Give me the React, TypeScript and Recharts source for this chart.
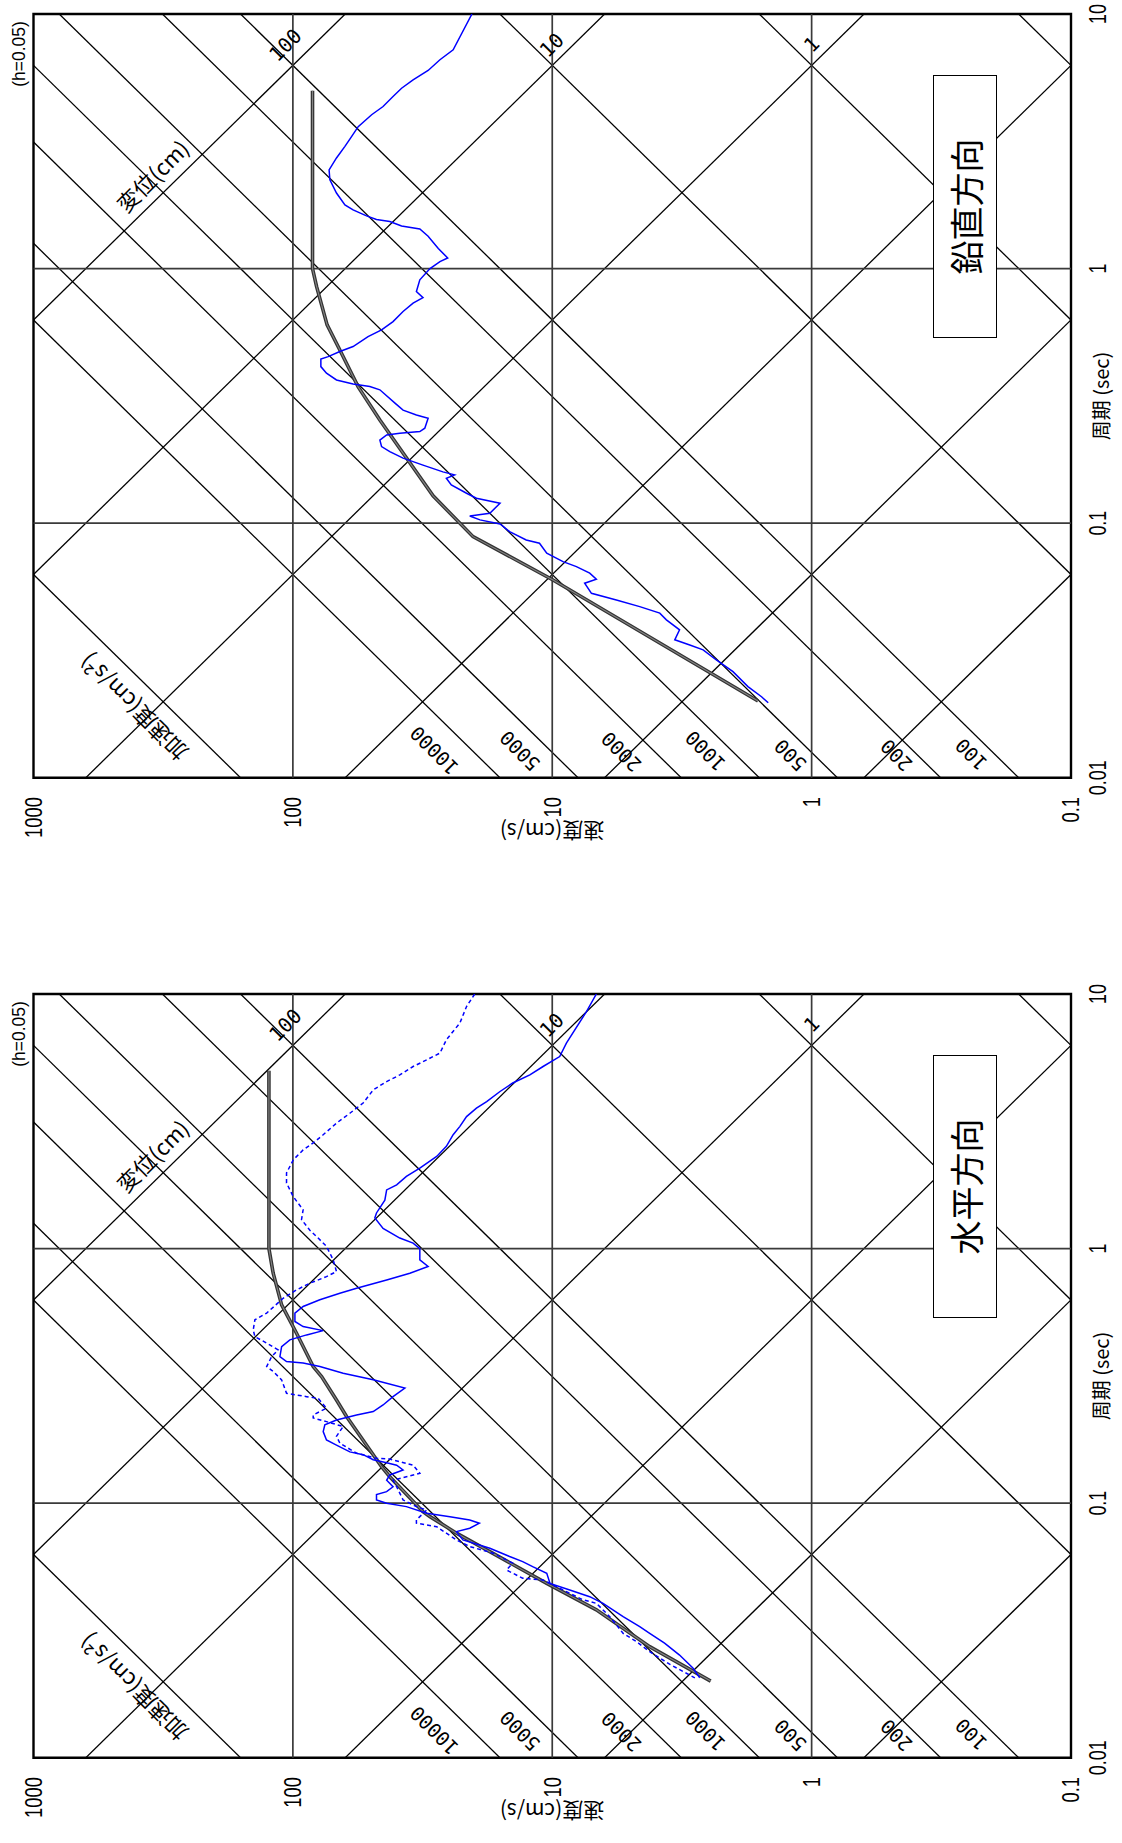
import React from 'react';
import { LineChart, Line, XAxis, YAxis, ReferenceLine, ReferenceArea, ReferenceDot } from 'recharts';

// ---- axes ----
const T_MIN = 0.01, T_MAX = 10, V_MIN = 0.1, V_MAX = 1000;
const periodTicks = [0.01, 0.1, 1, 10];
const velocityTicks = [0.1, 1, 10, 100, 1000];
const periodGrid = [0.1, 1];
const velocityGrid = [1, 10, 100];
// tripartite guide lines
const displacementLines = [0.001, 0.01, 0.1, 1, 10, 100];
const accelerationLines = [0.1, 1, 10, 100, 200, 500, 1000, 2000, 5000, 10000, 100000];
// guide labels (anchor in period / velocity)
const dispLabelText = ['100', '10', '1'];
const dispLabelT = [7.55, 7.55, 7.6];
const dispLabelV = [107, 10.05, 1.0];
const accLabelText = ['10000', '5000', '2000', '1000', '500', '200', '100'];
const accLabelT = [0.01285, 0.0128, 0.0127, 0.0128, 0.0123, 0.0123, 0.0124];
const accLabelV = [28.4, 13.3, 5.4, 2.56, 1.205, 0.47, 0.2417];
const dispTitleAt = [2.33, 350];
const accTitleAt = [0.0188, 414];

// ---- series: [period (s), velocity (cm/s)] ----
const verticalObserved = [
  [10, 20.4], [7.23, 24.1], [6.61, 27.1], [6.0, 30.1], [5.51, 34.4], [5.11, 38.1], [4.74, 41.1], [4.33, 44.9],
  [4.02, 49.7], [3.61, 56.0], [3.30, 59.4], [3.02, 63.0], [2.72, 67.9], [2.44, 72.5], [2.23, 72.0], [1.98, 67.9],
  [1.78, 63.0], [1.70, 58.6], [1.61, 52.0], [1.56, 47.6], [1.53, 42.3], [1.47, 38.1], [1.43, 32.4], [1.34, 30.1],
  [1.20, 27.5], [1.10, 25.3], [1.065, 27.1], [1.00, 29.6], [0.903, 32.4], [0.812, 33.4], [0.769, 31.5], [0.731, 34.4],
  [0.678, 37.6], [0.619, 41.1], [0.574, 45.5], [0.540, 51.3], [0.494, 58.6], [0.472, 65.9], [0.451, 73.1], [0.441, 78.0],
  [0.412, 78.0], [0.388, 74.2], [0.365, 67.9], [0.352, 58.6], [0.344, 50.5], [0.334, 46.2], [0.296, 40.4], [0.278, 37.6],
  [0.266, 33.4], [0.258, 30.1], [0.236, 31.0], [0.229, 32.4], [0.2255, 38.7], [0.222, 43.5], [0.212, 46.2], [0.1998, 45.5],
  [0.191, 42.3], [0.180, 37.6], [0.169, 31.5], [0.159, 26.4], [0.1547, 23.8], [0.150, 25.6], [0.1413, 24.5], [0.131, 21.4],
  [0.1253, 19.6], [0.1197, 15.9], [0.1094, 17.4], [0.1067, 20.8], [0.103, 19.0], [0.0993, 15.9], [0.0926, 14.6], [0.0859, 12.6],
  [0.0834, 11.2], [0.0762, 10.5], [0.0706, 9.09], [0.0675, 8.07], [0.0636, 7.17], [0.0602, 6.76], [0.0581, 7.50], [0.0530, 7.06],
  [0.0499, 5.66], [0.0470, 4.60], [0.0443, 3.85], [0.0417, 3.63], [0.0381, 3.23], [0.0348, 3.37], [0.0332, 2.95], [0.0318, 2.62],
  [0.0290, 2.33], [0.0261, 2.01], [0.0228, 1.76], [0.0208, 1.56], [0.0197, 1.47],
];
const verticalDesign = [
  [5.0, 84], [1.0, 84], [0.849, 81], [0.601, 73.8], [0.479, 65.9], [0.343, 56], [0.254, 46.2], [0.128, 28.8],
  [0.0885, 20.2], [0.0598, 9.93], [0.02, 1.61],
];
const horizontalObservedA = [
  [10.0, 6.76], [8.53, 7.38], [6.41, 8.82], [5.68, 9.36], [5.19, 10.85], [4.81, 12.2], [4.47, 14.2], [4.14, 15.9],
  [3.78, 17.9], [3.56, 19.6], [3.30, 21.4], [3.02, 22.7], [2.80, 24.1], [2.52, 25.6], [2.30, 27.9], [2.07, 32.4],
  [1.92, 36.5], [1.78, 39.8], [1.70, 43.5], [1.55, 44.2], [1.38, 47.6], [1.32, 48.3], [1.20, 44.9], [1.10, 38.7],
  [1.05, 34.4], [1.00, 32.4], [0.903, 32.4], [0.850, 30.1], [0.80, 35.4], [0.753, 43.5], [0.699, 56.8], [0.668, 65.9],
  [0.629, 78.7], [0.592, 91.3], [0.558, 98.2], [0.517, 98.2], [0.494, 91.3], [0.476, 76.4], [0.458, 88.5], [0.438, 102.7],
  [0.412, 110.5], [0.376, 112.2], [0.360, 105.8], [0.355, 91.3], [0.344, 78.7], [0.324, 64.0], [0.305, 49.0], [0.283, 37.0],
  [0.262, 41.1], [0.243, 44.9], [0.229, 49.0], [0.222, 56.8], [0.212, 67.9], [0.203, 75.3], [0.191, 76.4], [0.177, 74.2],
  [0.169, 67.9], [0.159, 60.3], [0.155, 53.6], [0.148, 49.0], [0.144, 43.5], [0.141, 39.8], [0.135, 37.6], [0.129, 42.3],
  [0.123, 43.5], [0.116, 41.1], [0.111, 43.5], [0.108, 47.6], [0.103, 47.6], [0.0999, 43.5], [0.0969, 36.5], [0.0913, 30.5],
  [0.0885, 24.8], [0.0859, 20.8], [0.0834, 19.1], [0.0797, 20.8], [0.0773, 23.4], [0.0717, 22.1], [0.0665, 17.4], [0.0617, 14.6],
  [0.0589, 13.0], [0.0563, 11.9], [0.0530, 10.5], [0.0484, 10.2], [0.0456, 8.56], [0.0429, 7.17], [0.0404, 6.37], [0.0358, 5.33],
  [0.0327, 4.60], [0.0308, 4.21], [0.0282, 3.69], [0.0253, 3.23], [0.0225, 2.87], [0.0206, 2.70],
];
const horizontalObservedB = [
  [10.0, 19.9], [8.93, 21.4], [7.69, 22.7], [6.61, 25.6], [5.86, 27.1], [5.51, 30.5], [5.19, 34.4], [4.81, 38.7],
  [4.53, 43.5], [4.20, 49.0], [3.73, 53.6], [3.40, 60.3], [3.11, 67.9], [2.80, 76.4], [2.60, 83.5], [2.44, 91.3],
  [2.23, 99.7], [1.98, 105.8], [1.81, 105.8], [1.60, 99.7], [1.42, 91.3], [1.30, 92.6], [1.18, 86.0], [1.10, 79.9],
  [1.02, 74.2], [0.903, 69.9], [0.812, 67.9], [0.776, 74.2], [0.731, 86.0], [0.688, 96.8], [0.638, 109], [0.558, 126.2],
  [0.525, 140.1], [0.479, 142.2], [0.451, 140.1], [0.425, 126.2], [0.400, 114], [0.376, 120.8], [0.344, 126.2], [0.329, 119.1],
  [0.305, 110.5], [0.270, 105.8], [0.262, 88.5], [0.258, 79.9], [0.236, 74.2], [0.222, 83.5], [0.216, 83.5], [0.209, 74.2],
  [0.200, 64.0], [0.183, 67.9], [0.172, 65.9], [0.157, 56.8], [0.150, 47.6], [0.149, 42.3], [0.141, 34.4], [0.131, 32.4],
  [0.127, 36.5], [0.123, 41.1], [0.116, 39.8], [0.103, 37.6], [0.0969, 33.4], [0.0940, 30.5], [0.0859, 33.4], [0.0834, 33.4],
  [0.0808, 27.9], [0.0762, 25.6], [0.0717, 23.4], [0.0675, 20.8], [0.0636, 16.9], [0.0581, 14.2], [0.0546, 15.0], [0.0507, 13.0],
  [0.0499, 10.85], [0.0456, 9.09], [0.0417, 7.61], [0.0404, 6.76], [0.0358, 6.00], [0.0308, 5.33], [0.0286, 4.74], [0.0261, 4.21],
  [0.0233, 3.53], [0.0206, 2.82],
];
const horizontalDesign = [
  [5.0, 123.7], [1.0, 123.7], [0.80, 119.1], [0.601, 110.5], [0.465, 96.8], [0.344, 83.5], [0.314, 77.5], [0.254, 67.9],
  [0.219, 62.1], [0.139, 45.5], [0.127, 42.3], [0.0926, 31.5], [0.0885, 29.6], [0.0762, 23.4], [0.0655, 17.9], [0.0484, 10.5],
  [0.0381, 6.76], [0.0273, 4.21], [0.020, 2.45],
];

const TWO_PI = 2 * Math.PI;
const toPts = (arr: number[][]) => arr.map(([T, V]) => ({ T, V }));
const dispSegment = (D: number) => {
  const lo = Math.max(T_MIN, (TWO_PI * D) / V_MAX);
  const hi = Math.min(T_MAX, (TWO_PI * D) / V_MIN);
  return [{ T: lo, V: (TWO_PI * D) / lo }, { T: hi, V: (TWO_PI * D) / hi }];
};
const accSegment = (A: number) => {
  const lo = Math.max(T_MIN, (TWO_PI * V_MIN) / A);
  const hi = Math.min(T_MAX, (TWO_PI * V_MAX) / A);
  return [{ T: lo, V: (A * lo) / TWO_PI }, { T: hi, V: (A * hi) / TWO_PI }];
};

const SANS = "'Liberation Sans', Arial, sans-serif";
const MONO = "'DejaVu Sans Mono', monospace";
const CJK = "'Noto Sans CJK JP', sans-serif";

const PeriodTick = (p: any) => (
  <g transform={`translate(${p.x},${p.y + 27})`}>
    <text transform="scale(0.78,1)" textAnchor="middle" dominantBaseline="central" fontSize={23} fontFamily={SANS} fill="#000">
      {String(p.payload.value)}
    </text>
  </g>
);
const VelocityTick = (p: any) => (
  <g transform={`translate(${p.x},${p.y})`}>
    <text transform="scale(0.8,1)" textAnchor="end" dominantBaseline="central" fontSize={23} fontFamily={SANS} fill="#000">
      {String(p.payload.value)}
    </text>
  </g>
);

const textShape = (text: string, angle: number, size: number, family: string) => (p: any) => (
  <text x={p.cx} y={p.cy} transform={`rotate(${angle} ${p.cx} ${p.cy})`} textAnchor="middle" dominantBaseline="central"
    fontSize={size} fontFamily={family} fill="#000">
    {text}
  </text>
);

const EW = 880; // element width (becomes screen height)
const EH = 1122; // element height (becomes screen width)

function Panel({ top, title, solid, dashed, design }: { top: number; title: string; solid: number[][]; dashed?: number[][]; design: number[][] }) {
  return (
    <div style={{ position: 'absolute', left: 0, top: 0, width: EW, height: EH, transformOrigin: '0 0', transform: `translate(0px, ${top + EW}px) rotate(-90deg)` }}>
      <LineChart width={EW} height={EH} margin={{ top: 33.5, right: 14, bottom: 0, left: 0 }}>
        <XAxis dataKey="T" type="number" scale="log" domain={[T_MIN, T_MAX]} allowDataOverflow ticks={periodTicks} interval={0}
          tick={(p: any) => <PeriodTick {...p} />} tickLine={false} axisLine={false} tickSize={0} tickMargin={0} height={51} />
        <YAxis dataKey="V" type="number" scale="log" domain={[V_MIN, V_MAX]} allowDataOverflow ticks={velocityTicks} interval={0}
          tick={(p: any) => <VelocityTick {...p} />} tickLine={false} axisLine={false} tickSize={0} tickMargin={19.3} width={102.3} />
        {displacementLines.map((d) => (
          <Line key={'d' + d} data={dispSegment(d)} dataKey="V" stroke="#000" strokeWidth={1.3} dot={false} activeDot={false} isAnimationActive={false} />
        ))}
        {accelerationLines.map((a) => (
          <Line key={'a' + a} data={accSegment(a)} dataKey="V" stroke="#000" strokeWidth={1.3} dot={false} activeDot={false} isAnimationActive={false} />
        ))}
        {periodGrid.map((t) => (
          <ReferenceLine key={'pg' + t} x={t} stroke="#3a3a3a" strokeWidth={1.7} />
        ))}
        {velocityGrid.map((v) => (
          <ReferenceLine key={'vg' + v} y={v} stroke="#3a3a3a" strokeWidth={1.7} />
        ))}
        <ReferenceArea x1={T_MIN} x2={T_MAX} y1={V_MIN} y2={V_MAX} fill="none" stroke="#000" strokeWidth={2.4} ifOverflow="visible" />
        <Line data={toPts(design)} dataKey="V" stroke="#333" strokeWidth={3.6} dot={false} activeDot={false} isAnimationActive={false} />
        <Line data={toPts(design)} dataKey="V" stroke="#858585" strokeWidth={1.1} dot={false} activeDot={false} isAnimationActive={false} />
        {dashed && (
          <Line data={toPts(dashed)} dataKey="V" stroke="#0000ff" strokeWidth={1.5} strokeDasharray="4 3" dot={false} activeDot={false} isAnimationActive={false} />
        )}
        <Line data={toPts(solid)} dataKey="V" stroke="#0000ff" strokeWidth={1.5} dot={false} activeDot={false} isAnimationActive={false} />
        {dispLabelText.map((t, i) => (
          <ReferenceDot key={'dl' + t} x={dispLabelT[i]} y={dispLabelV[i]} r={1} shape={textShape(t, 45, 20, MONO)} />
        ))}
        {accLabelText.map((t, i) => (
          <ReferenceDot key={'al' + t} x={accLabelT[i]} y={accLabelV[i]} r={1} shape={textShape(t, -45, 19.5, MONO)} />
        ))}
        <ReferenceDot x={dispTitleAt[0]} y={dispTitleAt[1]} r={1} shape={textShape('変位(cm)', 45, 22, CJK)} />
        <ReferenceDot x={accTitleAt[0]} y={accTitleAt[1]} r={1} shape={textShape('加速度(cm/s²)', -45, 22, CJK)} />
      </LineChart>
      <div style={{ position: 'absolute', left: 826, top: 19, transform: 'translate(-50%,-50%)', fontSize: 17.5, fontFamily: SANS, whiteSpace: 'nowrap', color: '#000' }}>
        (h=0.05)
      </div>
      <div style={{ position: 'absolute', left: 484, top: 1100, transform: 'translate(-50%,-50%)', fontSize: 20, fontFamily: CJK, whiteSpace: 'nowrap', color: '#000' }}>
        周期 (sec)
      </div>
      <div style={{ position: 'absolute', left: 48, top: 552, transform: 'translate(-50%,-50%) rotate(-90deg)', fontSize: 21, fontFamily: CJK, whiteSpace: 'nowrap', color: '#000' }}>
        速度(cm/s)
      </div>
      <div style={{ position: 'absolute', left: 542, top: 933, width: 263, height: 64, boxSizing: 'border-box', border: '1.8px solid #000', background: '#fff', display: 'flex', alignItems: 'center', justifyContent: 'center', fontSize: 34, fontFamily: CJK, color: '#000' }}>
        {title}
      </div>
    </div>
  );
}

export default function App() {
  return (
    <div style={{ position: 'absolute', left: 0, top: 0, width: 1122, height: 1843, overflow: 'hidden', background: '#fff' }}>
      <Panel top={0} title="鉛直方向" solid={verticalObserved} design={verticalDesign} />
      <Panel top={980} title="水平方向" solid={horizontalObservedA} dashed={horizontalObservedB} design={horizontalDesign} />
    </div>
  );
}
